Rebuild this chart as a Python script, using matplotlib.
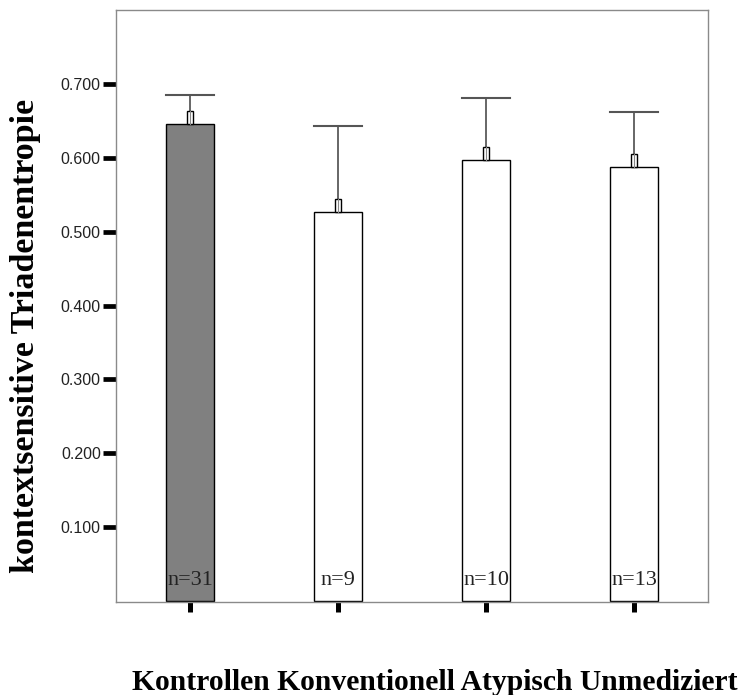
import matplotlib
matplotlib.use("Agg")
import matplotlib.pyplot as plt
from matplotlib.patches import Rectangle

categories = ["Kontrollen", "Konventionell", "Atypisch", "Unmediziert"]
means = [0.647, 0.527, 0.597, 0.588]
upper = [0.686, 0.644, 0.682, 0.663]
counts = [31, 9, 10, 13]
bar_colors = ["#808080", "white", "white", "white"]
yticks = [0.1, 0.2, 0.3, 0.4, 0.5, 0.6, 0.7]

W, H = 741, 695
fig = plt.figure(figsize=(W / 100, H / 100), dpi=100)
ax = fig.add_axes([116 / W, (H - 602) / H, (708 - 116) / W, (602 - 10) / H])

x = list(range(len(categories)))
bw = 0.33
ax.bar(x, means, width=bw, color=bar_colors, edgecolor="black", linewidth=1.0, zorder=2)

# one-sided error bars with a small marker box at the bar top
for xi, m, u in zip(x, means, upper):
    ax.plot([xi, xi], [m, u], color="#666666", lw=1.4, zorder=3, solid_capstyle="butt")
    ax.plot([xi - bw / 2, xi + bw / 2], [u, u], color="#555555", lw=1.5, zorder=3)
    ax.add_patch(Rectangle((xi - 0.017, m), 0.034, 0.0175, facecolor="white",
                           edgecolor="black", lw=1.0, zorder=4))
    ax.plot([xi, xi], [m, m + 0.0175], color="#888888", lw=0.8, zorder=5)

for xi, n in zip(x, counts):
    ax.text(xi, 0.021, f"n={n}", ha="center", va="baseline",
            fontfamily="Liberation Serif", fontsize=16, color="#222222", zorder=6)

ax.set_xlim(-0.5, 3.5)
ax.set_ylim(-0.002, 0.801)
ax.set_xticks(x)
ax.set_xticklabels([])
ax.set_yticks(yticks)
ax.set_yticklabels([f"{v:.3f}" for v in yticks], fontfamily="Liberation Sans",
                   fontsize=11.5, color="#222222")
ax.tick_params(axis="y", length=9.4, width=3.4, color="black", pad=1.5, direction="out")
ax.tick_params(axis="x", length=7.2, width=3.6, color="black", direction="out")
for s in ax.spines.values():
    s.set_color("#8a8a8a")
    s.set_linewidth(1.0)

fig.text(26 / W, (H - 336) / H, "kontextsensitive Triadenentropie", rotation=90,
         ha="center", va="center", fontfamily="Liberation Serif",
         fontweight="bold", fontsize=24.5)

fig.text(435 / W, (H - 683) / H, " ".join(categories), ha="center", va="center",
         fontfamily="Liberation Serif", fontweight="bold", fontsize=21.3)

fig.savefig("out.png", dpi=100, facecolor="white")
